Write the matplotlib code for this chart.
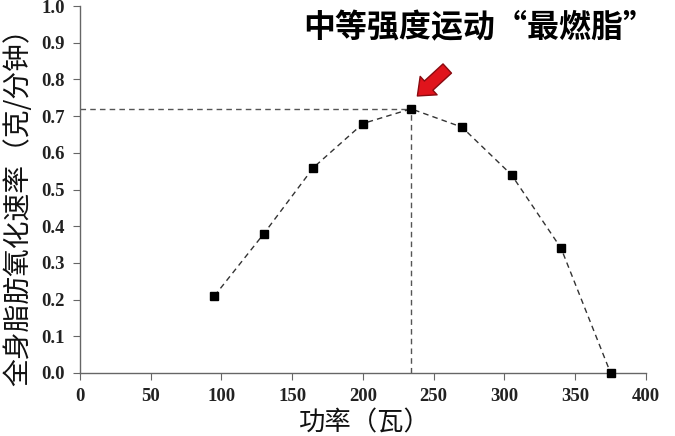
import matplotlib
matplotlib.use("Agg")
import matplotlib.pyplot as plt

# data
power = [95, 130, 165, 200, 234, 270, 305, 340, 375]
fat_rate = [0.21, 0.38, 0.56, 0.68, 0.72, 0.67, 0.54, 0.34, 0.0]
x_ticks = [0, 50, 100, 150, 200, 250, 300, 350, 400]
y_ticks = [0.0, 0.1, 0.2, 0.3, 0.4, 0.5, 0.6, 0.7, 0.8, 0.9, 1.0]

title_text = "中等强度运动“最燃脂”"
xlabel_text = "功率（瓦）"
ylabel_text = "全身脂肪氧化速率（克/分钟）"

cjk = ["Noto Sans CJK SC", "DejaVu Sans"]
serif = "Liberation Serif"

fig = plt.figure(figsize=(6.75, 4.36), dpi=100)
ax = fig.add_axes([0.1185, 0.1445, 0.8385, 0.8415])

ax.plot(power, fat_rate, linestyle=(0, (4, 3)), color="#333333", lw=1.0,
        marker="s", markersize=6, markerfacecolor="black",
        markeredgecolor="black", clip_on=False, zorder=3)

# peak guide lines
i_peak = max(range(len(fat_rate)), key=lambda i: fat_rate[i])
px, py = power[i_peak], fat_rate[i_peak]
ax.plot([0, px], [py, py], linestyle=(0, (4, 3)), color="#555555", lw=1.0)
ax.plot([px, px], [0, py], linestyle=(0, (4, 3)), color="#555555", lw=1.0)

ax.set_xlim(0, 400)
ax.set_ylim(0, 1.0)
ax.set_xticks(x_ticks)
ax.set_yticks(y_ticks)
ax.set_xticklabels([str(v) for v in x_ticks])
ax.set_yticklabels([f"{v:.1f}" for v in y_ticks])
for lab in ax.get_xticklabels() + ax.get_yticklabels():
    lab.set_fontfamily(serif)
    lab.set_fontweight("bold")
    lab.set_fontsize(13.5)
    lab.set_color("#222222")

ax.spines["top"].set_visible(False)
ax.spines["right"].set_visible(False)
for s in ("left", "bottom"):
    ax.spines[s].set_color("#666666")
    ax.spines[s].set_linewidth(1.0)
ax.tick_params(direction="out", length=5, color="#666666", pad=6)

# arrow pointing at the peak
ax.annotate("", xy=(px + 3, py + 0.03), xytext=(px + 27, py + 0.115),
            arrowprops=dict(arrowstyle="simple,head_width=1.8,head_length=1.1,tail_width=0.9",
                            fc="#e0141c", ec="#8a0a10", lw=1.0))

fig.text(0.71, 0.935, title_text, family=cjk, fontsize=23, fontweight="heavy",
         ha="center", va="center", color="black")
fig.text(0.54, 0.03, xlabel_text, family=cjk, fontsize=19,
         ha="center", va="center", color="#111111")
fig.text(0.027, 0.54, ylabel_text, family=cjk, fontsize=20, rotation=90,
         ha="center", va="center", color="#111111")

fig.savefig("out.png", dpi=100)
